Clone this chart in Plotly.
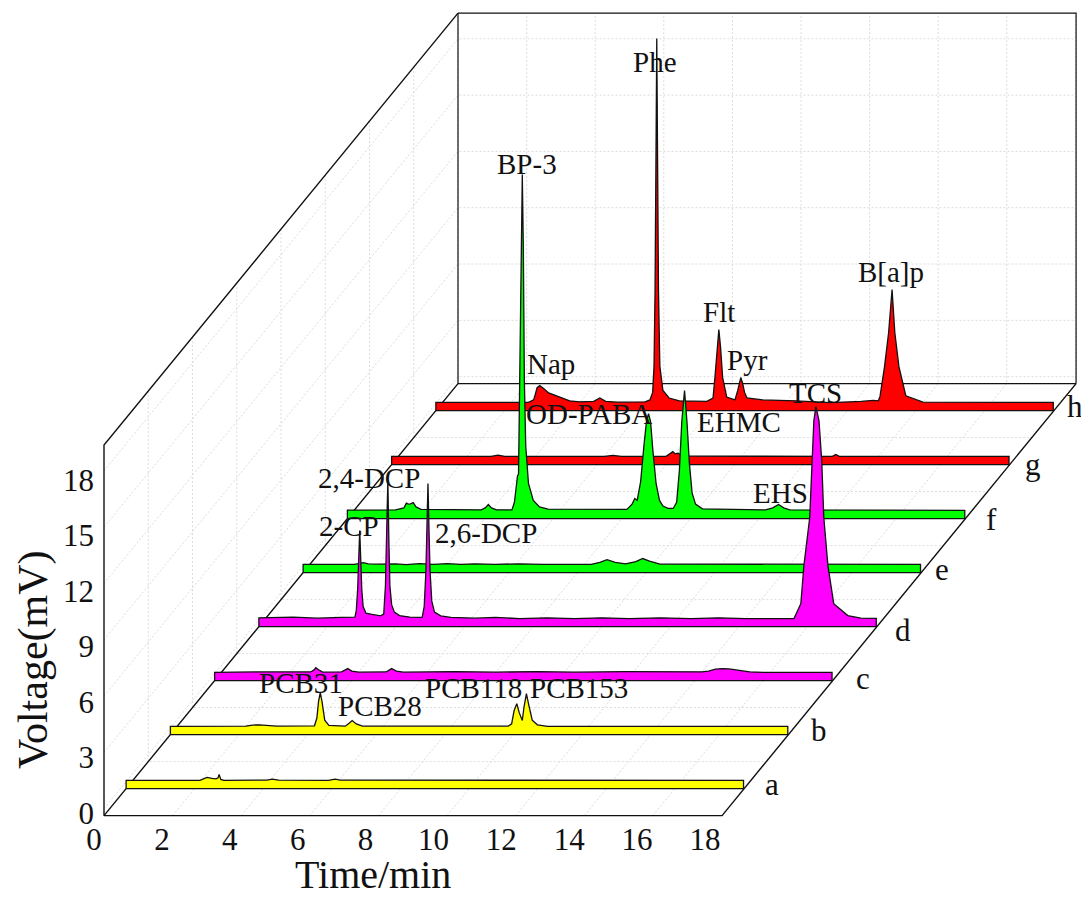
import plotly.graph_objects as go

# ---------- data (minutes, mV) ----------
time_ticks = [0, 2, 4, 6, 8, 10, 12, 14, 16, 18]
volt_ticks = [0, 3, 6, 9, 12, 15, 18]
series_names = ["a", "b", "c", "d", "e", "f", "g", "h"]

time_a = [0, 2.15, 2.25, 2.36, 2.5, 2.62, 2.68, 2.71, 2.76, 2.85, 4.1, 4.26, 4.45, 5.9, 6.09, 6.25, 18]
volt_a = [.07, .07, .15, .23, .17, .15, .2, .38, .12, .07, .08, .13, .08, .07, .13, .08, .07]

time_b = [0, 2.2, 2.4, 2.6, 2.9, 3.1, 4.2, 4.27, 4.32, 4.37, 4.42, 4.5, 4.62, 5.1, 5.22, 5.3, 5.42, 5.6,
          9.85, 9.95, 10.02, 10.1, 10.17, 10.26, 10.31, 10.38, 10.45, 10.55, 10.7, 11, 18]
volt_b = [.07, .08, .14, .15, .12, .08, .1, .5, 1.4, 1.87, 1.4, .4, .12, .08, .25, .38, .2, .08,
          .08, .2, .9, 1.28, .8, .38, 1.1, 1.81, 1.2, .4, .15, .07, .07]

time_c = [0, 1.2, 2.0, 2.8, 2.9, 2.95, 3.02, 3.15, 3.7, 3.8, 3.88, 4.0, 4.2, 5.0, 5.1, 5.16, 5.3, 5.5, 7, 8.2, 9.4,
          10.5, 12, 13.8, 14.2, 14.4, 14.6, 14.8, 15.0, 15.3, 15.6, 16, 18]
volt_c = [.07, .09, .07, .09, .2, .32, .22, .08, .1, .22, .27, .14, .08, .09, .2, .27, .14, .08, .11, .08, .11,
          .08, .11, .08, .1, .14, .24, .27, .25, .17, .1, .07, .07]

time_d = [0, 1, 1.7, 2.4, 2.8, 2.84, 2.88, 2.91, 2.94, 2.97, 3.0, 3.04, 3.12, 3.3, 3.55, 3.64, 3.69, 3.72,
          3.76, 3.79, 3.82, 3.87, 3.95, 4.1, 4.4, 4.76, 4.82, 4.87, 4.9, 4.93, 4.96, 4.99, 5.04, 5.12, 5.3,
          5.6, 6.3, 6.9, 7.6, 8.4, 9.2, 10, 10.8, 11.7, 12.6, 13.4, 14.2, 15, 15.6, 15.8, 15.89, 16.06, 16.12,
          16.18, 16.24, 16.33, 16.41, 16.47, 16.59, 16.76, 17.17, 17.55, 18]
volt_d = [.09, .13, .08, .12, .13, .5, 1.6, 3.2, 4.75, 3.2, 1.6, .7, .35, .28, .2, .3, 1.8, 4.2,
          7.4, 4.2, 1.8, .8, .4, .22, .14, .12, .7, 2.6, 4.8, 7.25, 4.8, 2.6, 1, .4, .2,
          .12, .08, .12, .06, .1, .06, .1, .06, .1, .06, .1, .06, .08, .06, .85, 2.88, 5.44, 8.47,
          10.6, 11.35, 10.6, 8.47, 5.44, 2.88, .85, .22, .08, .07]

time_e = [0, 1.5, 1.65, 1.75, 1.9, 2.2, 2.7, 3.0, 3.4, 3.8, 4.2, 4.6, 5.0, 5.6, 6.3, 7, 8.4, 8.65, 8.86, 9.1, 9.4, 9.7, 9.9,
          10.1, 10.4, 12, 18]
volt_e = [.07, .07, .12, .16, .1, .08, .09, .06, .11, .07, .11, .07, .1, .07, .1, .07, .07, .18, .32, .17, .1, .22, .38,
          .24, .08, .07, .07]

time_f = [0, 1.4, 1.65, 1.72, 1.78, 1.84, 1.92, 2.0, 2.15, 3.9, 4.02, 4.11, 4.2, 4.35, 4.8, 4.87, 4.92, 4.96, 4.99,
          5.03, 5.07, 5.10, 5.13, 5.16, 5.2, 5.28, 5.42, 5.6, 5.85, 7.8, 8.15, 8.3, 8.38, 8.45, 8.55, 8.65, 8.72,
          8.78, 8.84, 8.9, 9.0, 9.1, 9.2, 9.35, 9.5, 9.6, 9.68, 9.75, 9.83, 9.9, 9.97, 10.05, 10.15, 10.35, 12.2,
          12.4, 12.57, 12.72, 12.9, 18]
volt_f = [.08, .1, .2, .45, .4, .42, .48, .25, .12, .1, .2, .38, .2, .1, .1, .5, 1.4, 1.9, 2.0,
          7, 14, 17.96, 14, 7, 3.5, 1.5, .6, .25, .14, .1, .12, .4, .7, .6, 1.6, 3.6, 4.8,
          5.22, 4.8, 3.4, 1.5, .6, .3, .18, .17, .5, 2.2, 4.8, 6.45, 4.8, 2.6, 1, .4, .15, .09,
          .2, .38, .2, .1, .07]

time_g = [0, 2.9, 3.1, 3.3, 6.2, 6.45, 6.7, 8.0, 8.12, 8.2, 8.27, 8.35, 8.5, 12.85, 12.95, 13.05, 18]
volt_g = [.07, .07, .13, .07, .07, .12, .07, .07, .22, .32, .2, .24, .08, .07, .17, .07, .07]

time_h = [0, 2.7, 2.85, 2.9, 2.95, 3.03, 3.15, 3.27, 3.5, 3.7, 3.9, 4.2, 4.6, 4.78, 4.95, 5.3, 6.1, 6.24, 6.32, 6.36,
          6.39, 6.42, 6.44, 6.46, 6.49, 6.53, 6.62, 6.8, 7.1, 7.9, 8.08, 8.14, 8.2, 8.25, 8.3, 8.36, 8.48, 8.72,
          8.8, 8.85, 8.89, 8.94, 9.0, 9.07, 9.53, 10.5, 11, 11.5, 12.4, 12.75, 12.9, 12.95, 13.08, 13.2, 13.3,
          13.38, 13.5, 13.7, 14.2, 18]
volt_h = [.07, .07, .2, .5, .85, .96, .8, .59, .42, .3, .15, .1, .12, .3, .12, .08, .1, .2, .6, 2,
          6, 14, 19.45, 14, 6, 2, .7, .3, .15, .12, .3, 1.5, 3, 3.95, 3, 1.4, .35, .2,
          .7, 1.1, 1.39, 1.1, .6, .3, .2, .15, .12, .06, .12, .18, .15, .4, 1.97, 3.79, 6.08,
          3.79, 1.97, .42, .08, .07]

series_times = [time_a, time_b, time_c, time_d, time_e, time_f, time_g, time_h]
series_volts = [volt_a, volt_b, volt_c, volt_d, volt_e, volt_f, volt_g, volt_h]

peak_names = ["PCB31", "PCB28", "PCB118", "PCB153", "2-CP", "2,4-DCP", "2,6-DCP", "TCS", "BP-3",
              "OD-PABA", "EHMC", "EHS", "Nap", "Phe", "Flt", "Pyr", "B[a]p"]
peak_series = [1, 1, 1, 1, 3, 3, 3, 3, 5, 5, 5, 5, 7, 7, 7, 7, 7]
peak_times = [4.37, 5.3, 10.1, 10.38, 2.94, 3.76, 4.93, 16.24, 5.1, 8.78, 9.83, 12.57, 3.03, 6.44, 8.25, 8.89, 13.3]
peak_volts = [1.87, .38, 1.28, 1.81, 4.75, 7.4, 7.25, 11.35, 17.96, 5.22, 6.45, .38, .96, 19.45, 3.95, 1.39, 6.08]

# ---------- styling / layout constants ----------
PAGE = 8                          # browser body margin
W, H = 1089 - PAGE, 897 - PAGE
PX_T, PX_V = 34.3, 18.77          # px per minute, px per mV
ORIG_X, ORIG_Y = 104 - PAGE, 815.6 - PAGE   # front-bottom-left corner
DEPTH_X, DEPTH_Y = 44.25 / PX_T, 54 / PX_V   # one depth step in axis units
FLOOR, V_TOP, T_END = -0.37, 19.37, 18.02
N_DEPTH = 8
SERIFF = "Liberation Serif"
INK = "#111111"
GRID = "#dcdcdc"
series_colors = ["#ffff00", "#ffff00", "#ff00ff", "#ff00ff", "#00ff00", "#00ff00", "#ff0000", "#ff0000"]
peak_shift = [(-19, 10), (28, 15), (-43, 16), (53, 6), (-11, 5), (-19, 3), (58, -49), (0, 14), (5, 11),
              (-60, 0), (54, -31), (2, 12), (11, 22), (-2, -23), (0, 18), (7, 18), (-1, 18)]
letter_shift = [(28, 4), (31, 4), (31, 2), (27, -4), (21, 3), (27, -1), (24, 0), (22, 4)]


def fx(p):
    return (p - PAGE) / W


def fy(p):
    return 1 - (p - PAGE) / H


def px(t, d):
    return t + d * DEPTH_X


def py(v, d):
    return v + d * DEPTH_Y


fig = go.Figure()


def seg(pts, color, width, dash="solid"):
    fig.add_trace(go.Scatter(x=[px(t, d) for t, v, d in pts], y=[py(v, d) for t, v, d in pts],
                             mode="lines", line=dict(color=color, width=width, dash=dash),
                             hoverinfo="skip", showlegend=False))


# grids
dash = "2px,2px"
for t in time_ticks:
    seg([(t, FLOOR, 0), (t, FLOOR, N_DEPTH), (t, V_TOP, N_DEPTH)], GRID, 1, dash)
for v in volt_ticks:
    seg([(0, v, 0), (0, v, N_DEPTH), (T_END, v, N_DEPTH)], GRID, 1, dash)
for d in range(1, N_DEPTH):
    seg([(0, V_TOP, d), (0, FLOOR, d), (T_END, FLOOR, d)], GRID, 1, dash)

# frame
seg([(T_END, FLOOR, N_DEPTH), (0, FLOOR, N_DEPTH), (0, V_TOP, N_DEPTH)], INK, 1.2)
seg([(0, V_TOP, N_DEPTH), (T_END, V_TOP, N_DEPTH), (T_END, FLOOR, N_DEPTH)], INK, 1.2)
seg([(0, FLOOR, N_DEPTH), (0, FLOOR, 0), (T_END, FLOOR, 0), (T_END, FLOOR, N_DEPTH)], INK, 1.4)
seg([(0, FLOOR, 0), (0, V_TOP, 0), (0, V_TOP, N_DEPTH)], INK, 1.4)

# ribbons, back to front
for i in range(len(series_names) - 1, -1, -1):
    d = i + 0.5
    ts, vs = series_times[i], series_volts[i]
    xs = [px(ts[0], d)] + [px(t, d) for t in ts] + [px(ts[-1], d), px(ts[0], d)]
    ys = [py(FLOOR, d)] + [py(v, d) for v in vs] + [py(FLOOR, d), py(FLOOR, d)]
    fig.add_trace(go.Scatter(x=xs, y=ys, mode="lines", fill="toself", fillcolor=series_colors[i],
                             line=dict(color=INK, width=1.3), name=series_names[i],
                             hoverinfo="skip", showlegend=False))

# invisible trace carrying the labelled axes
fig.add_trace(go.Scatter(x=time_ticks, y=[0] * len(time_ticks), xaxis="x2", yaxis="y2", mode="markers",
                         marker=dict(opacity=0), hoverinfo="skip", showlegend=False))

ann = []
for name, s, t, v, (sx, sy) in zip(peak_names, peak_series, peak_times, peak_volts, peak_shift):
    ann.append(dict(x=px(t, s + .5), y=py(v, s + .5), xref="x", yref="y", text=name, showarrow=False,
                    xshift=sx, yshift=sy, xanchor="center", yanchor="middle",
                    font=dict(family=SERIFF, size=29, color=INK)))
for i, name in enumerate(series_names):
    sx, sy = letter_shift[i]
    ann.append(dict(x=px(series_times[i][-1], i + .5), y=py(FLOOR, i + .5), xref="x", yref="y", text=name,
                    showarrow=False, xshift=sx, yshift=sy, xanchor="center", yanchor="middle",
                    font=dict(family=SERIFF, size=31, color=INK)))
ann.append(dict(x=fx(373), y=fy(874), xref="paper", yref="paper", text="Time/min", showarrow=False,
                xanchor="center", yanchor="middle", font=dict(family=SERIFF, size=40, color=INK)))
ann.append(dict(x=fx(33), y=fy(660), xref="paper", yref="paper", text="Voltage(mV)", showarrow=False, textangle=-90,
                xanchor="center", yanchor="middle", font=dict(family=SERIFF, size=42, color=INK)))

fig.update_layout(
    width=W, height=H, margin=dict(l=0, r=0, t=0, b=0), autosize=False,
    paper_bgcolor="white", plot_bgcolor="rgba(0,0,0,0)", showlegend=False, annotations=ann,
    xaxis=dict(visible=False, automargin=False, domain=[0, 1], range=[-ORIG_X / PX_T, (W - ORIG_X) / PX_T], fixedrange=True),
    yaxis=dict(visible=False, automargin=False, domain=[0, 1],
               range=[FLOOR - (H - ORIG_Y) / PX_V, FLOOR + ORIG_Y / PX_V], fixedrange=True),
    xaxis2=dict(automargin=False, domain=[fx(94), fx(705)], range=[0, 18], anchor="free", position=fy(818), side="bottom",
                tickmode="array", tickvals=time_ticks, showgrid=False, zeroline=False, showline=False, ticks="",
                tickfont=dict(family=SERIFF, size=31, color=INK)),
    yaxis2=dict(automargin=False, domain=[fy(813), fy(480)], range=[0, 18], anchor="free", position=fx(94), side="left",
                tickmode="array", tickvals=volt_ticks, showgrid=False, zeroline=False, showline=False, ticks="",
                tickfont=dict(family=SERIFF, size=31, color=INK)),
)
fig.write_html("out.html")
